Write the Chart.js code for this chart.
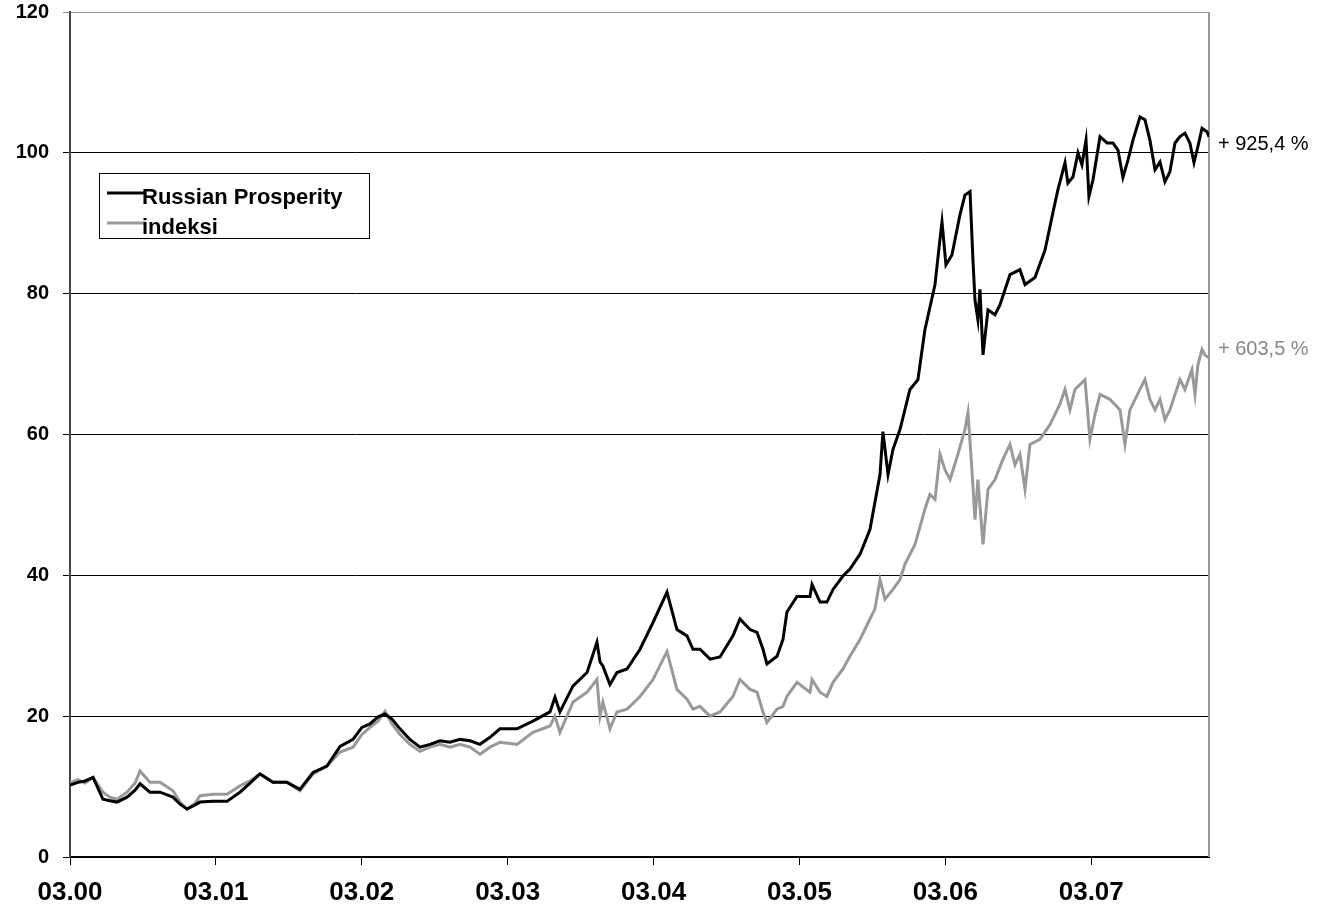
<!DOCTYPE html>
<html>
<head>
<meta charset="utf-8">
<script src="https://cdn.jsdelivr.net/npm/chart.js@4"></script>
<style>
  body { margin: 0; background: #fff; }
  #wrap { width: 1335px; height: 916px; }
</style>
</head>
<body>
<div id="wrap"><canvas id="chart" width="1335" height="916"></canvas></div>
<script>
// x in years since 03.00
const xTickLabels = ['03.00', '03.01', '03.02', '03.03', '03.04', '03.05', '03.06', '03.07'];
const yTickValues = [0, 20, 40, 60, 80, 100, 120];

const seriesNames = ['Russian Prosperity', 'indeksi'];
const endLabels = ['+ 925,4 %', '+ 603,5 %'];

const prosperityDates = [
    0, 0.055, 0.103, 0.158, 0.226, 0.274, 0.322, 0.391, 0.446, 0.480, 0.548, 0.617, 0.706, 0.754, 0.802,
    0.857, 0.891, 0.980, 1.076, 1.165, 1.234, 1.302, 1.391, 1.487, 1.576, 1.666, 1.761, 1.851, 1.940,
    2.001, 2.056, 2.111, 2.159, 2.207, 2.262, 2.330, 2.399, 2.467, 2.536, 2.605, 2.673, 2.742, 2.810, 2.879, 2.947,
    3.064, 3.173, 3.290, 3.324, 3.358, 3.448, 3.544, 3.612, 3.633, 3.653, 3.701, 3.749, 3.818, 3.907, 3.996,
    4.092, 4.160, 4.229, 4.270, 4.318, 4.387, 4.455, 4.544, 4.592, 4.661, 4.709, 4.750, 4.777, 4.846, 4.887,
    4.914, 4.983, 5.072, 5.086, 5.141, 5.188, 5.230, 5.298, 5.346,
    5.415, 5.483, 5.552, 5.572, 5.607, 5.641, 5.689, 5.757, 5.812, 5.860, 5.929, 5.963, 5.977, 6.004, 6.045,
    6.100, 6.134, 6.169, 6.189, 6.203, 6.223, 6.237, 6.258, 6.292, 6.340, 6.374, 6.409, 6.443, 6.511, 6.546,
    6.614, 6.683, 6.737, 6.772, 6.820, 6.840, 6.875, 6.909, 6.936, 6.964, 6.984, 7.012, 7.060, 7.108, 7.149,
    7.183, 7.217, 7.252, 7.286, 7.334, 7.368, 7.402, 7.437, 7.471, 7.505, 7.539, 7.574, 7.608, 7.642, 7.676,
    7.704, 7.731, 7.759, 7.793, 7.807
];
const prosperityValues = [
    10.2, 10.6, 10.8, 11.3, 8.2, 8.0, 7.8, 8.5, 9.5, 10.4, 9.2, 9.2, 8.5, 7.5, 6.8,
    7.4, 7.8, 7.9, 7.9, 9.2, 10.5, 11.8, 10.6, 10.6, 9.6, 12.0, 12.9, 15.7, 16.7,
    18.4, 18.9, 19.9, 20.3, 19.6, 18.2, 16.7, 15.6, 16.0, 16.5, 16.3, 16.7, 16.5, 16.0, 17.0, 18.2,
    18.2, 19.3, 20.6, 22.7, 20.6, 24.3, 26.2, 30.5, 27.7, 27.1, 24.5, 26.2, 26.7, 29.5, 33.3,
    37.6, 32.3, 31.4, 29.5, 29.5, 28.1, 28.4, 31.4, 33.8, 32.3, 31.9, 29.5, 27.4, 28.5, 30.9,
    34.8, 37.0, 37.0, 38.7, 36.2, 36.2, 38.0, 39.9, 40.9,
    43.0, 46.5, 54.3, 60.4, 54.3, 57.9, 60.7, 66.4, 67.8, 74.9, 81.3, 87.7, 90.2, 84.1, 85.5,
    91.2, 94.0, 94.5, 84.8, 79.1, 76.3, 80.6, 71.3, 77.7, 77.0, 78.4, 80.6, 82.7, 83.4, 81.3,
    82.3, 86.2, 91.5, 94.8, 98.6, 95.7, 96.6, 100.0, 98.3, 101.8, 93.8, 96.2, 102.3, 101.4, 101.4,
    100.4, 96.5, 99.0, 101.8, 105.1, 104.7, 101.8, 97.6, 98.7, 95.9, 97.3, 101.4, 102.3, 102.8, 101.4,
    98.6, 100.9, 103.5, 103.0, 102.3
];

const indexDates = [
    0, 0.055, 0.103, 0.158, 0.226, 0.274, 0.322, 0.391, 0.446, 0.480, 0.548, 0.617, 0.706, 0.754, 0.802,
    0.857, 0.891, 0.980, 1.076, 1.165, 1.234, 1.302, 1.391, 1.487, 1.576, 1.666, 1.761, 1.851, 1.940,
    2.001, 2.056, 2.111, 2.159, 2.207, 2.262, 2.330, 2.399, 2.467, 2.536, 2.605, 2.673, 2.742, 2.810, 2.879, 2.947,
    3.064, 3.173, 3.290, 3.324, 3.358, 3.448, 3.544, 3.612, 3.633, 3.653, 3.701, 3.749, 3.818, 3.907, 3.996,
    4.092, 4.160, 4.229, 4.270, 4.318, 4.387, 4.455, 4.544, 4.592, 4.661, 4.709, 4.750, 4.777, 4.846, 4.887,
    4.914, 4.983, 5.072, 5.086, 5.141, 5.188, 5.230, 5.298, 5.346,
    5.415, 5.483, 5.517, 5.552, 5.586, 5.641, 5.689, 5.723, 5.792, 5.860, 5.894, 5.929, 5.963, 5.997, 6.032,
    6.086, 6.134, 6.155, 6.182, 6.203, 6.223, 6.258, 6.292, 6.340, 6.395, 6.443, 6.477, 6.511, 6.546, 6.580,
    6.648, 6.717, 6.785, 6.820, 6.854, 6.888, 6.923, 6.957, 6.991, 7.025, 7.060, 7.128, 7.197, 7.231, 7.265,
    7.334, 7.368, 7.402, 7.437, 7.471, 7.505, 7.539, 7.574, 7.608, 7.642, 7.690, 7.711, 7.731, 7.759, 7.779,
    7.807
];
const indexValues = [
    10.5, 11.0, 10.5, 11.3, 9.2, 8.5, 8.2, 9.2, 10.5, 12.2, 10.6, 10.6, 9.4, 7.8, 6.8,
    7.6, 8.7, 8.9, 8.9, 10.1, 10.8, 11.8, 10.6, 10.6, 9.4, 11.8, 12.9, 14.9, 15.6,
    17.4, 18.4, 19.3, 20.7, 18.9, 17.4, 16.0, 15.0, 15.6, 16.0, 15.6, 16.0, 15.6, 14.6, 15.6, 16.3,
    16.0, 17.7, 18.6, 20.0, 17.7, 22.0, 23.4, 25.2, 20.0, 22.0, 18.2, 20.6, 21.0, 22.8, 25.2,
    29.2, 23.8, 22.4, 21.0, 21.4, 20.0, 20.6, 22.8, 25.2, 23.8, 23.4, 20.6, 19.1, 21.0, 21.4,
    22.8, 24.8, 23.4, 25.2, 23.4, 22.8, 24.8, 26.7, 28.5,
    30.9, 33.8, 35.2, 39.4, 36.6, 38.0, 39.4, 41.6, 44.4, 49.4, 51.5, 50.8, 57.2, 55.0, 53.6,
    57.2, 60.7, 63.1, 55.0, 47.9, 53.6, 44.4, 52.2, 53.6, 56.5, 58.6, 55.7, 57.2, 52.2, 58.6,
    59.3, 61.4, 64.3, 66.4, 63.5, 66.4, 67.1, 67.8, 59.3, 62.8, 65.7, 65.0, 63.5, 58.6, 63.5,
    66.4, 67.8, 65.0, 63.5, 65.0, 62.1, 63.5, 65.7, 67.8, 66.4, 69.2, 65.7, 69.9, 72.1, 71.3,
    70.9
];

const lineColors = ['#000000', '#999999'];

function toPoints(dates, values) {
    return dates.map((d, i) => ({ x: d, y: values[i] }));
}

// frame, legend box and end-of-line labels
const extrasPlugin = {
    id: 'extras',
    beforeDatasetsDraw(chart) {
        const { ctx, chartArea: a } = chart;
        ctx.save();
        ctx.strokeStyle = '#999';
        ctx.lineWidth = 2;
        ctx.beginPath();
        ctx.moveTo(a.right, a.top);
        ctx.lineTo(a.right, a.bottom);
        ctx.stroke();
        ctx.restore();
    },
    afterDraw(chart) {
        const { ctx, chartArea: a } = chart;
        const yScale = chart.scales.y;
        ctx.save();

        // legend
        const bx = 99, by = 173, bw = 270, bh = 65;
        ctx.fillStyle = '#fff';
        ctx.fillRect(bx, by, bw, bh);
        ctx.strokeStyle = '#000';
        ctx.lineWidth = 1;
        ctx.strokeRect(bx + 0.5, by + 0.5, bw, bh);
        ctx.font = 'bold 22px Arial, "Liberation Sans", sans-serif';
        ctx.textBaseline = 'alphabetic';
        ctx.textAlign = 'left';
        chart.data.datasets.forEach((ds, i) => {
            const ly = by + 20 + i * 30;
            ctx.strokeStyle = ds.borderColor;
            ctx.lineWidth = 3;
            ctx.beginPath();
            ctx.moveTo(bx + 8, ly);
            ctx.lineTo(bx + 46, ly);
            ctx.stroke();
            ctx.fillStyle = '#000';
            ctx.fillText(ds.label, bx + 43, ly + 11);
        });

        // end labels
        ctx.font = '20px Arial, "Liberation Sans", sans-serif';
        ctx.textBaseline = 'middle';
        const offsets = [8, -8];
        chart.data.datasets.forEach((ds, i) => {
            const last = ds.data[ds.data.length - 1];
            ctx.fillStyle = i === 0 ? '#000' : '#888';
            ctx.fillText(endLabels[i], a.right + 9, yScale.getPixelForValue(last.y) + offsets[i]);
        });
        ctx.restore();
    }
};

new Chart(document.getElementById('chart'), {
    type: 'line',
    data: {
        datasets: [
            {
                label: seriesNames[0],
                data: toPoints(prosperityDates, prosperityValues),
                borderColor: lineColors[0],
                borderWidth: 3,
                pointRadius: 0,
                tension: 0
            },
            {
                label: seriesNames[1],
                data: toPoints(indexDates, indexValues),
                borderColor: lineColors[1],
                borderWidth: 3,
                pointRadius: 0,
                tension: 0
            }
        ]
    },
    options: {
        responsive: false,
        animation: false,
        events: [],
        layout: { padding: { top: 12, right: 126, left: 0, bottom: 0 } },
        plugins: {
            legend: { display: false },
            tooltip: { enabled: false }
        },
        scales: {
            x: {
                type: 'linear',
                min: 0,
                max: 7.807,
                afterFit: s => { s.height = 59; s.paddingLeft = 0; s.paddingRight = 0; },
                afterBuildTicks: s => { s.ticks = xTickLabels.map((_, i) => ({ value: i })); },
                ticks: {
                    callback: v => xTickLabels[v],
                    color: '#000',
                    font: { family: 'Arial, "Liberation Sans", sans-serif', size: 26, weight: 'bold' },
                    padding: 12,
                    maxRotation: 0,
                    autoSkip: false
                },
                grid: { drawOnChartArea: false, drawTicks: true, tickLength: 8, color: '#000', lineWidth: 1 },
                border: { color: '#000', width: 2 }
            },
            y: {
                min: 0,
                max: 120,
                afterFit: s => { s.width = 70; s.paddingTop = 0; s.paddingBottom = 0; },
                afterBuildTicks: s => { s.ticks = yTickValues.map(v => ({ value: v })); },
                ticks: {
                    color: '#000',
                    font: { family: 'Arial, "Liberation Sans", sans-serif', size: 20, weight: 'bold' },
                    padding: 14
                },
                grid: {
                    color: c => (c.tick && c.tick.value === 120 ? '#999' : '#000'),
                    lineWidth: 1,
                    tickLength: 7
                },
                border: { color: '#444', width: 2 }
            }
        }
    },
    plugins: [extrasPlugin]
});
</script>
</body>
</html>
